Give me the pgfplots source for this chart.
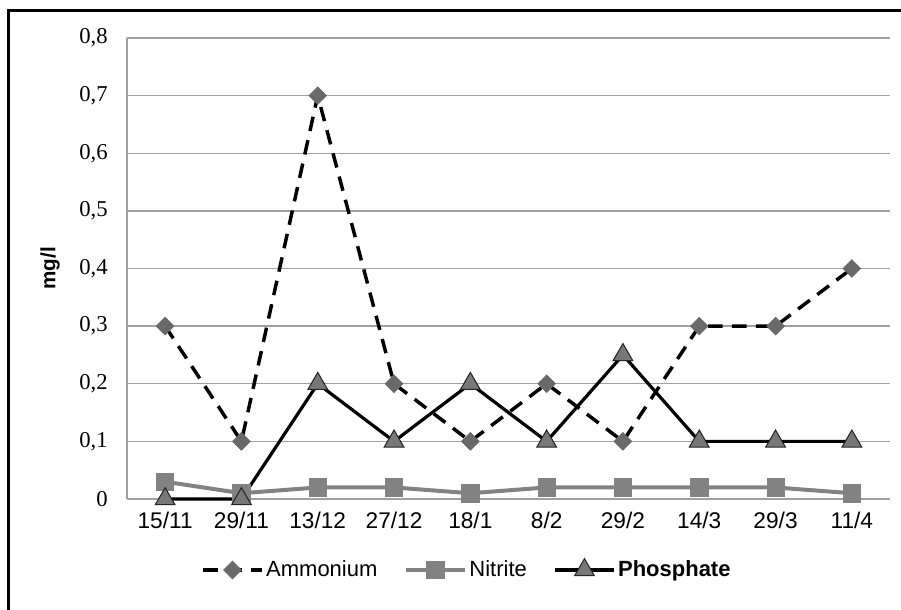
\documentclass[border=0pt]{standalone}
\usepackage{fontspec}
\setmainfont{Liberation Sans}
\newfontfamily\serifnum{Liberation Serif}
\usepackage{pgfplots}
\pgfplotsset{compat=1.18}

\definecolor{gridgray}{RGB}{160,160,160}
\definecolor{markgray}{RGB}{105,105,105}
\definecolor{trigray}{RGB}{120,120,120}
\definecolor{nitgray}{RGB}{130,130,130}

\begin{document}
\begin{tikzpicture}
\path[use as bounding box] (0,0) rectangle (675.75pt,457.5pt);
\draw[line width=2.25pt] (6pt,0) -- (6pt,449.25pt) -- (676pt,449.25pt);
\begin{axis}[
    at={(95.25pt,83.25pt)}, anchor=south west,
    scale only axis,
    width=572.25pt, height=345.75pt,
    xmin=-0.5, xmax=9.5,
    ymin=0, ymax=0.8,
    xtick={0,...,9},
    xticklabels={15/11,29/11,13/12,27/12,18/1,8/2,29/2,14/3,29/3,11/4},
    ytick={0,0.1,...,0.8},
    major tick length=0pt,
    axis lines*=left,
    x axis line style={draw=none},
    y axis line style={draw=gridgray, line width=1.1pt, -},
    ymajorgrids,
    grid style={draw=gridgray, line width=1.1pt},
    /pgf/number format/assume math mode=true,
    /pgf/number format/.cd, use comma, fixed, precision=1, /pgfplots/.cd,
    yticklabel style={font=\fontsize{17}{19}\selectfont\serifnum, xshift=-11pt},
    xticklabel style={font=\fontsize{17}{19}\selectfont, yshift=-6pt},
    ylabel={\textbf{mg/l}},
    every axis y label/.style={at={(axis description cs:0,0.5)}, xshift=-57.75pt,
        rotate=90, anchor=center, font=\fontsize{15.5}{18}\selectfont},
    legend style={at={(0.446,-0.154)}, anchor=center, draw=none, fill=none,
        legend columns=3, font=\fontsize{16.5}{19}\selectfont,
        /tikz/every even column/.append style={column sep=18pt}},
    legend image code/.code={\draw[mark repeat=2,mark phase=2,#1]
        plot coordinates {(0pt,0pt) (22pt,0pt) (44pt,0pt)};},
    clip=false
]
\addplot[black, line width=2.6pt, dash pattern=on 11pt off 7pt,
    mark=square*, mark size=4.7pt,
    mark options={solid, rotate=45, fill=markgray, draw=markgray, line width=0.5pt}]
    coordinates {(0,0.3) (1,0.1) (2,0.7) (3,0.2) (4,0.1) (5,0.2) (6,0.1) (7,0.3) (8,0.3) (9,0.4)};
\addlegendentry{Ammonium}

\addplot[nitgray, line width=3pt,
    mark=square*, mark size=6.5pt,
    mark options={solid, fill=nitgray, draw=nitgray, line width=0.5pt}]
    coordinates {(0,0.03) (1,0.01) (2,0.02) (3,0.02) (4,0.01) (5,0.02) (6,0.02) (7,0.02) (8,0.02) (9,0.01)};
\addlegendentry{Nitrite}

\addplot[black, line width=2.4pt,
    mark=triangle*, mark size=8.5pt,
    mark options={solid, fill=trigray, draw=black!85, line width=0.8pt}]
    coordinates {(0,0) (1,0) (2,0.2) (3,0.1) (4,0.2) (5,0.1) (6,0.25) (7,0.1) (8,0.1) (9,0.1)};
\addlegendentry{\textbf{Phosphate}}
\end{axis}
\end{tikzpicture}
\end{document}
